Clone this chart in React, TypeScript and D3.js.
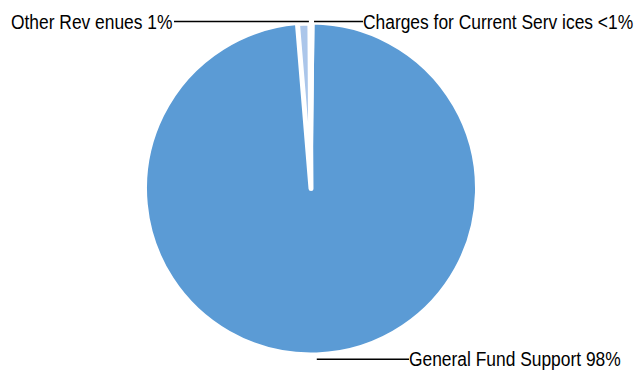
import React from "react";
import * as d3 from "d3";

const categories = ["General Fund Support", "Other Revenues", "Charges for Current Services"];
const values = [98.5, 1.2, 0.3];
const labels = ["General Fund Support 98%", "Other Rev enues 1%", "Charges for Current Serv ices <1%"];
const colors = ["#5b9bd5", "#abc6ea", "#ffffff"];

const W = 635, H = 371;
const cx = 311, cy = 188.5, R = 165.5;
const deg = Math.PI / 180;

export default function App() {
  const pie = d3.pie<number>().sort(null).value((d) => d).startAngle(0.7 * deg).endAngle(360.7 * deg);
  const arcs = pie(values);
  const arcGen = d3.arc<d3.PieArcDatum<number>>().innerRadius(0).outerRadius(R);
  const px = (a: number, r: number) => cx + r * Math.sin(a);

  const gf = arcs[0], other = arcs[1], chg = arcs[2];
  const gfMid = (gf.startAngle + gf.endAngle) / 2;
  const lineY = 21.5;
  const font = "'Liberation Sans', Arial, sans-serif";
  const sx = 0.87;
  const fs = 20;

  return (
    <svg width={W} height={H} style={{ position: "absolute", left: 0, top: 0, background: "#fff" }}>
      <g>
        {arcs.map((a, i) => (
          <path
            key={categories[i]}
            d={arcGen(a) || ""}
            transform={`translate(${cx},${cy})`}
            fill={colors[i]}
            stroke="#ffffff"
            strokeWidth={i === 1 ? 5 : 3}
            strokeLinejoin="round"
          />
        ))}
      </g>
      <line x1={174} y1={lineY} x2={px(other.endAngle, R) - 1} y2={lineY} stroke="#000" strokeWidth={1.5} />
      <line x1={px(chg.endAngle, R) + 1} y1={lineY} x2={363} y2={lineY} stroke="#000" strokeWidth={1.5} />
      <line x1={px(gfMid, R)} y1={359.3} x2={409} y2={359.3} stroke="#000" strokeWidth={1.5} />
      <text transform={`translate(11,28.5) scale(${sx},1)`} fontFamily={font} fontSize={fs} fill="#000">
        {labels[1]}
      </text>
      <text transform={`translate(363,28.5) scale(${sx},1)`} fontFamily={font} fontSize={fs} fill="#000">
        {labels[2]}
      </text>
      <text transform={`translate(409,366) scale(${sx},1)`} fontFamily={font} fontSize={fs} fill="#000">
        {labels[0]}
      </text>
    </svg>
  );
}
